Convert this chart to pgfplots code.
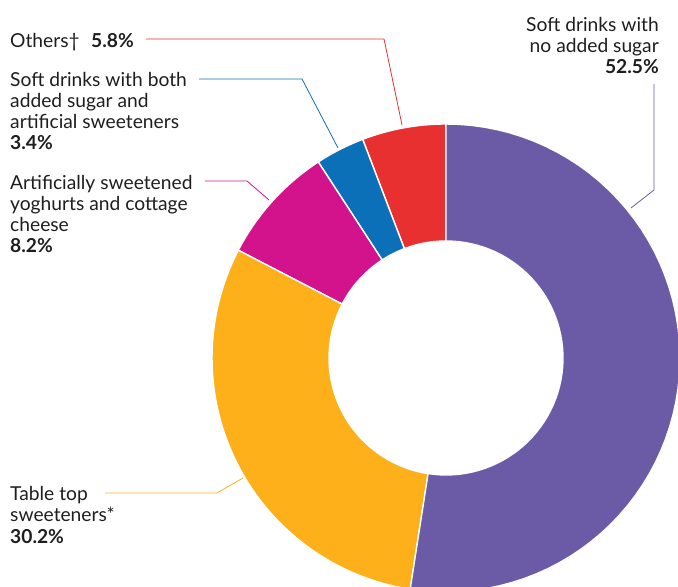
\documentclass[border=0pt]{standalone}
\usepackage{pgfplots}
\pgfplotsset{compat=1.18}
\usepackage{pgfplotstable}
\usepackage{fontspec}
\setmainfont{Lato}
\definecolor{cpurple}{HTML}{6B5AA6}
\definecolor{cyellow}{HTML}{FDB019}
\definecolor{cmagenta}{HTML}{D2138C}
\definecolor{cblue}{HTML}{0B70B7}
\definecolor{cred}{HTML}{E83030}
\definecolor{ctext}{HTML}{1E1E1E}

% shares (%), counter-clockwise from 12 o'clock
\pgfplotstableread{
share
5.8
3.4
8.2
30.2
52.5
}\sharetable

\newcommand\donutwedge[3]{%
\addplot[fill=#1, draw=white, line width=1.4pt, samples at={0,...,121}, variable=\t]
 ({\cx + (\t<=60 ? \Rout : \Rin)*cos(#2 + (\t<=60 ? \t/60 : (121-\t)/60)*(#3-#2))},
  {\cy + (\t<=60 ? \Rout : \Rin)*sin(#2 + (\t<=60 ? \t/60 : (121-\t)/60)*(#3-#2))}) -- cycle;
}
\newcommand\lab[3]{\node[anchor=base west, inner sep=0pt, text=ctext, font=\fontsize{19.3}{23}\selectfont] at (axis cs:#1,587-#2) {#3};}
\newcommand\labr[3]{\node[anchor=base east, inner sep=0pt, text=ctext, font=\fontsize{19.3}{23}\selectfont] at (axis cs:#1,587-#2) {#3};}

\begin{document}
\begin{tikzpicture}
\pgfplotstablegetelem{0}{share}\of\sharetable\let\sA\pgfplotsretval
\pgfplotstablegetelem{1}{share}\of\sharetable\let\sB\pgfplotsretval
\pgfplotstablegetelem{2}{share}\of\sharetable\let\sC\pgfplotsretval
\pgfplotstablegetelem{3}{share}\of\sharetable\let\sD\pgfplotsretval
\pgfplotstablegetelem{4}{share}\of\sharetable\let\sE\pgfplotsretval
\pgfmathsetmacro\tot{\sA+\sB+\sC+\sD+\sE}
\pgfmathsetmacro\k{360/\tot}
\pgfmathsetmacro\aA{90}
\pgfmathsetmacro\aB{\aA+\k*\sA}
\pgfmathsetmacro\aC{\aB+\k*\sB}
\pgfmathsetmacro\aD{\aC+\k*\sC}
\pgfmathsetmacro\aE{\aD+\k*\sD}
\pgfmathsetmacro\aF{\aE+\k*\sE}
\def\cx{446}\def\cy{229}\def\Rout{234}\def\Rin{117}
\begin{axis}[hide axis, scale only axis, width=678bp, height=587bp,
  xmin=0, xmax=678, ymin=0, ymax=587, clip=true]
\coordinate (bl) at (axis cs:0,0);
\coordinate (tr) at (axis cs:678,587);
\donutwedge{cred}{\aA}{\aB}
\donutwedge{cblue}{\aB}{\aC}
\donutwedge{cmagenta}{\aC}{\aD}
\donutwedge{cyellow}{\aD}{\aE}
\donutwedge{cpurple}{\aE}{\aF}
% leader lines
\addplot[cred, line width=0.8pt] coordinates {(146,548) (384,548) (402,462)};
\addplot[cblue, line width=0.8pt] coordinates {(199,508) (302,508) (338,439)};
\addplot[cmagenta, line width=0.8pt] coordinates {(205,406) (247,406) (269,387)};
\addplot[cyellow, line width=0.8pt] coordinates {(105,94) (217,94) (243,109)};
\addplot[cpurple, line width=0.8pt] coordinates {(654,503) (654,397) (631,379)};
% labels
\lab{10}{48}{Others†}
\lab{91}{48}{\textbf{5.8\%}}
\lab{10}{87}{Soft drinks with both}
\lab{10}{108}{added sugar and}
\lab{10}{129}{artificial sweeteners}
\lab{10}{150}{\textbf{3.4\%}}
\lab{10}{190}{Artificially sweetened}
\lab{10}{211}{yoghurts and cottage}
\lab{10}{232}{cheese}
\lab{10}{253}{\textbf{8.2\%}}
\lab{10}{501}{Table top}
\lab{10}{522}{sweeteners*}
\lab{10}{543}{\textbf{30.2\%}}
\labr{659}{32}{Soft drinks with}
\labr{659}{53}{no added sugar}
\labr{659}{74}{\textbf{52.5\%}}
\end{axis}
\pgfresetboundingbox
\path[use as bounding box] (bl) rectangle (tr);
\end{tikzpicture}
\end{document}
